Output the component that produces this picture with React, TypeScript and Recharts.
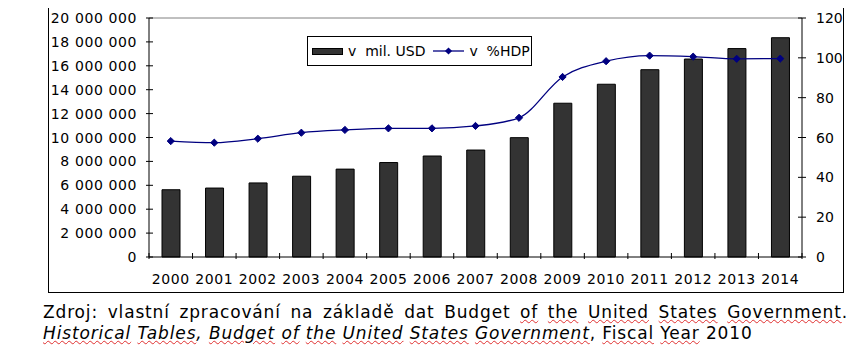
import React from 'react';
import {
  ComposedChart,
  Bar,
  Line,
  XAxis,
  YAxis,
  ReferenceLine,
} from 'recharts';

const years = ['2000', '2001', '2002', '2003', '2004', '2005', '2006', '2007', '2008', '2009', '2010', '2011', '2012', '2013', '2014'];
const debtUsd = [5628700, 5769900, 6198400, 6760000, 7354700, 7905300, 8451400, 8950700, 9986100, 12867500, 14456300, 15673900, 16565700, 17440900, 18350400];
const debtPctGdp = [58.2, 57.4, 59.4, 62.4, 63.8, 64.6, 64.6, 65.8, 69.9, 90.4, 98.3, 101.1, 100.6, 99.5, 99.6];
const leftTicks = [0, 2000000, 4000000, 6000000, 8000000, 10000000, 12000000, 14000000, 16000000, 18000000, 20000000];
const rightTicks = [0, 20, 40, 60, 80, 100, 120];
const seriesNames = ['v  mil. USD', 'v  %HDP'];

const data = years.map((y, i) => ({ year: y, usd: debtUsd[i], pct: debtPctGdp[i] }));

const FONT = '"DejaVu Sans", Verdana, sans-serif';
const AXIS_L = 101;
const AXIS_R = 754;
const AXIS_B = 252;
const HALF_BAND = (AXIS_R - AXIS_L) / years.length / 2;

const fmt = (v: number) => String(v).replace(/\B(?=(\d{3})+(?!\d))/g, ' ');

const LeftTick = (props: any) => {
  const { y, payload } = props;
  return (
    <g>
      <line x1={AXIS_L - 3} x2={AXIS_L + 4} y1={y} y2={y} stroke="#000" />
      <text x={AXIS_L - 12} y={y} dy="0.36em" textAnchor="end" fontSize={14} fontFamily={FONT} letterSpacing={0.6} fill="#000">
        {fmt(payload.value)}
      </text>
    </g>
  );
};

const RightTick = (props: any) => {
  const { y, payload } = props;
  return (
    <g>
      <line x1={AXIS_R - 4} x2={AXIS_R + 4} y1={y} y2={y} stroke="#000" />
      <text x={AXIS_R + 14} y={y} dy="0.36em" textAnchor="start" fontSize={14} fontFamily={FONT} fill="#000">
        {payload.value}
      </text>
    </g>
  );
};

const YearTick = (props: any) => {
  const { x, payload, index } = props;
  return (
    <g>
      <line x1={x - HALF_BAND} x2={x - HALF_BAND} y1={AXIS_B - 4} y2={AXIS_B + 2} stroke="#000" />
      {index === years.length - 1 && (
        <line x1={x + HALF_BAND} x2={x + HALF_BAND} y1={AXIS_B - 4} y2={AXIS_B + 2} stroke="#000" />
      )}
      <text x={x} y={AXIS_B + 22} dy="0.36em" textAnchor="middle" fontSize={14} fontFamily={FONT} letterSpacing={0.6} fill="#000">
        {payload.value}
      </text>
    </g>
  );
};

const Diamond = (props: any) => {
  const { cx, cy } = props;
  if (cx == null || cy == null) return null;
  const r = 3.6;
  return <polygon points={`${cx},${cy - r} ${cx + r},${cy} ${cx},${cy + r} ${cx - r},${cy}`} fill="#000080" stroke="#000080" />;
};

const LegendBox = () => (
  <div
    style={{
      position: 'absolute',
      left: 259,
      top: 31,
      width: 225,
      height: 30,
      border: '1px solid #000',
      background: '#fff',
      boxSizing: 'border-box',
      display: 'flex',
      alignItems: 'center',
      paddingLeft: 4,
      fontFamily: FONT,
      fontSize: 14,
      whiteSpace: 'pre',
      color: '#000',
    }}
  >
    <span style={{ display: 'inline-block', width: 31, height: 7, background: '#333', border: '1px solid #000', boxSizing: 'border-box' }} />
    <span style={{ marginLeft: 5 }}>{seriesNames[0]}</span>
    <svg width={31} height={10} style={{ marginLeft: 8 }}>
      <line x1={0} x2={31} y1={5} y2={5} stroke="#000080" strokeWidth={1.3} />
      <polygon points="15.5,1.4 19.1,5 15.5,8.6 11.9,5" fill="#000080" />
    </svg>
    <span style={{ marginLeft: 5 }}>{seriesNames[1]}</span>
  </div>
);

const underline: React.CSSProperties = {
  textDecorationLine: 'underline',
  textDecorationStyle: 'wavy',
  textDecorationColor: '#e03030',
  textDecorationThickness: 1,
};

export default function App() {
  return (
    <div style={{ position: 'relative', width: 863, height: 361, margin: -8, background: '#fff', overflow: 'hidden' }}>
      <div
        style={{
          position: 'absolute',
          left: 48,
          top: 5,
          width: 796,
          height: 288,
          border: '1px solid #000',
          boxSizing: 'border-box',
        }}
      >
        <div style={{ position: 'absolute', left: -1, top: -1 }}>
          <ComposedChart width={795} height={287} data={data} margin={{ top: 13, right: 0, bottom: 0, left: 0 }}>
            <XAxis
              dataKey="year"
              height={35}
              axisLine={{ stroke: '#000' }}
              tickLine={false}
              tick={<YearTick />}
              interval={0}
            />
            <YAxis
              yAxisId="left"
              width={101}
              domain={[0, 20000000]}
              ticks={leftTicks}
              axisLine={{ stroke: '#000' }}
              tickLine={false}
              tick={<LeftTick />}
              interval={0}
            />
            <YAxis
              yAxisId="right"
              orientation="right"
              width={41}
              domain={[0, 120]}
              ticks={rightTicks}
              axisLine={{ stroke: '#000' }}
              tickLine={false}
              tick={<RightTick />}
              interval={0}
            />
            <ReferenceLine yAxisId="left" y={20000000} stroke="#808080" />
            <Bar
              yAxisId="left"
              dataKey="usd"
              name={seriesNames[0]}
              barSize={18}
              fill="#333333"
              stroke="#000"
              strokeWidth={1}
              isAnimationActive={false}
            />
            <Line
              yAxisId="right"
              dataKey="pct"
              name={seriesNames[1]}
              type="monotone"
              stroke="#000080"
              strokeWidth={1.3}
              dot={<Diamond />}
              activeDot={false}
              isAnimationActive={false}
            />
          </ComposedChart>
          <LegendBox />
        </div>
      </div>
      <div style={{ position: 'absolute', left: 43, top: 302, width: 805, fontFamily: FONT, fontSize: 17, letterSpacing: 0.85, lineHeight: '21px', color: '#000' }}>
        <div style={{ textAlign: 'justify', textAlignLast: 'justify' }}>
          Zdroj: vlastní zpracování na základě dat Budget <span style={underline}>of</span> <span style={underline}>the</span>{' '}
          <span style={underline}>United</span> <span style={underline}>States</span> <span style={underline}>Government</span>.
        </div>
        <div>
          <i>
            <span style={underline}>Historical</span> <span style={underline}>Tables</span>, <span style={underline}>Budget</span>{' '}
            <span style={underline}>of</span> <span style={underline}>the</span> <span style={underline}>United</span>{' '}
            <span style={underline}>States</span> <span style={underline}>Government</span>
          </i>
          , <span style={underline}>Fiscal</span> <span style={underline}>Year</span> 2010
        </div>
      </div>
    </div>
  );
}
